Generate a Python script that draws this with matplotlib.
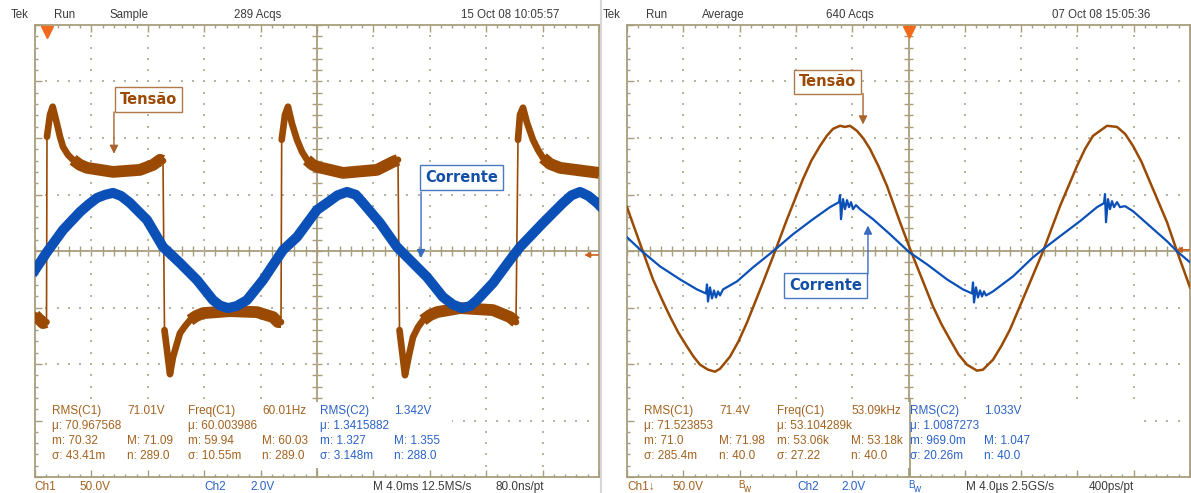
import numpy as np
import matplotlib
matplotlib.use('Agg')
import matplotlib.pyplot as plt
from matplotlib.lines import Line2D
from matplotlib.patches import Rectangle

W, H = 1191, 493
FONT = ['Liberation Sans', 'DejaVu Sans']

# ---- left capture: 4 ms/div, Ch1 (tensão) 50 V/div, Ch2 (corrente) 2 V/div
left_t_ch1 = [0.000, 0.567, 0.816, 0.851, 1.064, 1.255, 1.539, 1.773, 1.986, 2.340,
              2.695, 3.191, 3.688, 5.532, 7.447, 8.369, 8.865, 9.078, 9.184, 9.574,
              9.787, 10.035, 10.284, 10.638, 10.993, 11.418, 11.915, 13.830, 15.745, 16.879,
              17.234, 17.447, 17.496, 17.730, 17.943, 18.227, 18.582, 18.936, 19.291, 19.645,
              20.000, 21.844, 24.255, 25.390, 25.745, 25.851, 26.241, 26.525, 26.809, 27.163,
              27.518, 28.014, 28.511, 30.142, 32.482, 33.688, 34.113, 34.255, 34.397, 34.610,
              34.894, 35.319, 35.674, 36.028, 36.525, 37.234, 40.000]
left_ch1 = [-56.7, -63.8, -62.9, 101.1, 120.6, 127.7, 113.5, 101.1, 92.2, 85.1,
            80.7, 76.2, 73.6, 70.0, 71.8, 76.2, 80.7, 79.8, -70.0, -109.0,
            -94.0, -83.3, -72.7, -66.5, -61.2, -57.6, -55.0, -53.2, -54.1, -58.5,
            -62.9, -62.9, 98.4, 120.6, 127.7, 112.6, 98.4, 87.8, 80.7, 76.7,
            74.5, 69.1, 71.8, 78.9, 80.7, -70.0, -109.9, -92.2, -76.2, -67.4,
            -61.2, -56.7, -54.1, -50.5, -52.3, -58.5, -62.9, 98.4, 120.6, 126.8,
            113.5, 98.4, 89.5, 82.4, 77.1, 73.6, 69.1]
left_t_ch2 = [0.000, 0.851, 1.986, 3.191, 3.800, 4.397, 4.970, 5.532, 6.100, 6.738,
              7.943, 9.078, 10.284, 11.489, 12.624, 13.120, 13.688, 14.300, 15.035, 16.170,
              17.589, 18.582, 20.000, 20.709, 21.450, 22.128, 22.750, 23.262, 24.468, 25.674,
              26.596, 27.801, 28.936, 29.650, 30.284, 30.850, 31.348, 32.482, 33.688, 34.397,
              36.028, 37.447, 38.050, 38.652, 39.250, 39.858, 40.000]
left_ch2 = [-0.674, -0.035, 0.745, 1.383, 1.650, 1.879, 1.990, 2.057, 1.950, 1.702,
            1.099, 0.142, -0.426, -1.028, -1.738, -1.930, -2.021, -1.950, -1.738, -1.028,
            0.035, 0.496, 1.454, 1.702, 1.970, 2.092, 1.990, 1.702, 0.993, 0.142,
            -0.319, -0.922, -1.631, -1.900, -2.021, -1.950, -1.738, -1.135, -0.319, 0.142,
            0.993, 1.702, 1.970, 2.092, 1.950, 1.702, 1.630]

# ---- right capture: 4 us/div, same vertical scales
right_t_ch1 = [0.000, 1.115, 1.847, 2.450, 3.055, 3.660, 4.263, 4.730, 5.187, 5.755,
               6.252, 6.608, 7.318, 7.920, 8.526, 9.663, 10.516, 11.368, 12.505, 13.100,
               13.713, 14.200, 14.636, 15.134, 15.489, 15.844, 16.341, 16.800, 17.265, 17.870,
               18.473, 19.397, 20.178, 21.741, 22.350, 22.949, 23.550, 24.157, 24.867, 25.294,
               26.004, 26.600, 27.212, 28.420, 29.557, 30.764, 31.972, 32.550, 33.109, 34.104,
               34.814, 35.400, 35.951, 36.550, 37.159, 38.367, 39.078, 40.000]
right_ch1 = [38.8, 0.0, -25.1, -42.0, -58.0, -72.5, -84.6, -93.5, -100.6, -105.0,
             -106.8, -104.2, -93.5, -80.0, -63.3, -27.8, -0.3, 28.1, 63.7, 80.0,
             93.0, 102.0, 108.1, 110.8, 109.8, 110.8, 106.3, 99.5, 90.3, 75.0,
             57.5, 25.5, -0.3, -49.1, -65.0, -78.4, -91.5, -100.6, -105.9, -105.0,
             -96.2, -84.0, -69.5, -34.0, -0.3, 39.7, 75.2, 90.5, 101.9, 110.8,
             109.8, 103.5, 93.0, 79.0, 61.0, 25.5, -0.3, -32.2]
right_t_ch2 = [0.000, 1.066, 2.345, 3.766, 4.974, 5.613, 5.684, 5.755, 5.897, 6.039,
               6.181, 6.323, 6.466, 6.608, 6.821, 7.816, 8.952, 10.373, 11.794, 13.215,
               14.423, 15.063, 15.134, 15.205, 15.347, 15.489, 15.631, 15.773, 15.915, 16.057,
               16.270, 16.554, 17.478, 18.686, 20.036, 21.315, 22.736, 23.873, 24.512, 24.583,
               24.654, 24.796, 24.938, 25.080, 25.222, 25.364, 25.506, 26.004, 27.425, 28.846,
               29.557, 30.764, 32.185, 33.393, 33.890, 33.961, 34.032, 34.174, 34.316, 34.458,
               34.601, 34.814, 35.027, 35.382, 35.951, 37.159, 38.367, 39.078, 40.000]
right_ch2 = [0.487, -0.011, -0.543, -1.005, -1.360, -1.502, -1.183, -1.787, -1.289, -1.680,
             -1.396, -1.645, -1.431, -1.574, -1.360, -1.076, -0.579, -0.011, 0.593, 1.126,
             1.552, 1.730, 1.978, 1.126, 1.836, 1.481, 1.801, 1.552, 1.730, 1.481,
             1.623, 1.481, 1.126, 0.593, -0.036, -0.472, -1.005, -1.360, -1.502, -1.112,
             -1.822, -1.289, -1.645, -1.396, -1.609, -1.431, -1.574, -1.431, -0.899, -0.224,
             0.060, 0.522, 1.055, 1.552, 1.694, 2.014, 1.019, 1.836, 1.481, 1.765,
             1.552, 1.730, 1.552, 1.588, 1.410, 0.877, 0.345, -0.011, -0.401]

left_header = ["Tek", "Run", "Sample", "289 Acqs", "15 Oct 08 10:05:57"]
right_header = ["Tek", "Run", "Average", "640 Acqs", "07 Oct 08 15:05:36"]

left_meas = [["RMS(C1)", "71.01V", "Freq(C1)", "60.01Hz", "RMS(C2)", "1.342V"],
             ["μ: 70.967568", "", "μ: 60.003986", "", "μ: 1.3415882", ""],
             ["m: 70.32", "M: 71.09", "m: 59.94", "M: 60.03", "m: 1.327", "M: 1.355"],
             ["σ: 43.41m", "n: 289.0", "σ: 10.55m", "n: 289.0", "σ: 3.148m", "n: 288.0"]]
right_meas = [["RMS(C1)", "71.4V", "Freq(C1)", "53.09kHz", "RMS(C2)", "1.033V"],
              ["μ: 71.523853", "", "μ: 53.104289k", "", "μ: 1.0087273", ""],
              ["m: 71.0", "M: 71.98", "m: 53.06k", "M: 53.18k", "m: 969.0m", "M: 1.047"],
              ["σ: 285.4m", "n: 40.0", "σ: 27.22", "n: 40.0", "σ: 20.26m", "n: 40.0"]]

left_footer = ["Ch1", "50.0V", "Ch2", "2.0V", "M 4.0ms 12.5MS/s", "80.0ns/pt"]
right_footer = ["Ch1\u2193", "50.0V", "Ch2", "2.0V", "M 4.0\u00b5s 2.5GS/s", "400ps/pt"]

GRID = '#a89e7c'
DOT = '#b9b3a0'
BROWN = '#9a4a02'
BROWN_TXT = '#a3621f'
BLUE = '#0b50b6'
BLUE_TXT = '#2a62c6'
DARK = '#3a3a3a'
TRIG = '#f26a1b'

fig = plt.figure(figsize=(W / 100, H / 100), dpi=100)


def px(x, y):
    return x / W, 1 - y / H


def ftext(x, y, s, color, size=8.3, **kw):
    fig.text(*px(x, y), s, color=color, fontsize=size, family=FONT,
             ha='left', va='center', **kw)


def graticule(ax, span):
    dx = span / 10
    ax.set_xlim(0, span)
    ax.set_ylim(-200, 200)
    ax.set_xticks(np.arange(0, span + dx / 2, dx))
    ax.set_xticks(np.arange(0, span + dx / 10, dx / 5), minor=True)
    ax.set_yticks(np.arange(-200, 201, 50))
    ax.set_yticks(np.arange(-200, 201, 10), minor=True)
    ax.tick_params(which='both', direction='in', top=True, right=True, color=GRID,
                   width=1, labelbottom=False, labelleft=False)
    ax.tick_params(which='major', length=5)
    ax.tick_params(which='minor', length=2.5)
    for s in ax.spines.values():
        s.set_color(GRID)
        s.set_linewidth(1.3)
    ax.axhline(0, color=GRID, lw=1.3, zorder=1)
    ax.axvline(span / 2, color=GRID, lw=1.3, zorder=1)
    fine_x = np.arange(0, span + dx / 10, dx / 5)
    fine_y = np.arange(-200, 201, 10)
    ax.vlines(fine_x, -4, 4, color=GRID, lw=1, zorder=1)
    ax.hlines(fine_y, span / 2 - 0.08 * dx, span / 2 + 0.08 * dx, color=GRID, lw=1, zorder=1)
    gx = [k * dx for k in range(1, 10) if k != 5]
    gy = [-150, -100, -50, 50, 100, 150]
    X1, Y1 = np.meshgrid(gx, fine_y[1:-1])
    X2, Y2 = np.meshgrid(fine_x[1:-1], gy)
    ax.scatter(np.r_[X1.ravel(), X2.ravel()], np.r_[Y1.ravel(), Y2.ravel()],
               s=1.6, marker='s', color=DOT, linewidths=0, zorder=1)


def add_panel(x0, x1):
    ax = fig.add_axes([x0 / W, 1 - 477 / H, (x1 - x0) / W, 452 / H])
    ax.set_facecolor('white')
    graticule(ax, 40)
    ax2 = ax.twinx()
    ax2.set_ylim(-8, 8)
    ax2.axis('off')
    return ax, ax2


def label_box(ax, x, y, s, color, edge):
    ax.text(x, y, s, ha='center', va='center', fontsize=10.5, fontweight='bold',
            family='DejaVu Sans', color=color, zorder=6,
            bbox=dict(boxstyle='square,pad=0.32', fc='white', ec=edge, lw=1))


def leader(ax, x, y0, y1, color):
    ax.annotate('', xy=(x, y1), xytext=(x, y0), zorder=6,
                arrowprops=dict(arrowstyle='-|>,head_length=0.5,head_width=0.25',
                                color=color, lw=1, shrinkA=0, shrinkB=0))


# ---------------- left panel ----------------
axL, axL2 = add_panel(35, 599)
t1 = np.array(left_t_ch1)
v1 = np.array(left_ch1)
axL.plot(t1, v1, color=BROWN, lw=1.2, zorder=3)
cuts = np.where(np.abs(np.diff(v1)) > 100)[0] + 1
for seg in np.split(np.arange(len(v1)), cuts):
    axL.plot(t1[seg], v1[seg], color=BROWN, lw=4.8, zorder=3,
             solid_joinstyle='round', solid_capstyle='round')
plateau = np.where((v1 < 85) & (v1 > -66), v1, np.nan)
axL.plot(t1, plateau, color=BROWN, lw=8.5, zorder=3, solid_capstyle='butt',
         solid_joinstyle='round')
axL2.plot(left_t_ch2, left_ch2, color=BLUE, lw=7.2, zorder=4, solid_joinstyle='round')

label_box(axL, 8.05, 134, "Tensão", BROWN, '#b07a48')
leader(axL, 5.60, 123, 86, '#a8642a')
label_box(axL2, 30.25, 2.60, "Corrente", '#1450a8', '#4a78c4')
leader(axL2, 27.38, 2.09, -0.25, '#3a6cc0')

axL.plot([0.85], [194], marker='v', ms=8, color=TRIG, clip_on=False, zorder=7)
axL.annotate('', xy=(38.95, -3.5), xytext=(39.95, -3.5),
             arrowprops=dict(arrowstyle='-|>', color='#c8601c', lw=1.2,
                             mutation_scale=8, shrinkA=0, shrinkB=0))

# ---------------- right panel ----------------
axR, axR2 = add_panel(627, 1190)
axR.plot(right_t_ch1, right_ch1, color=BROWN, lw=1.8, zorder=3, solid_joinstyle='round')
axR2.plot(right_t_ch2, right_ch2, color=BLUE, lw=1.6, zorder=4)

label_box(axR, 14.25, 149.6, "Tensão", BROWN, '#b07a48')
leader(axR, 16.77, 139.4, 112, '#a8642a')
label_box(axR2, 14.10, -1.22, "Corrente", '#1450a8', '#4a78c4')
leader(axR2, 17.12, -0.81, 0.90, '#3a6cc0')

axR.plot([20], [194], marker='v', ms=8, color=TRIG, clip_on=False, zorder=7)
axR.annotate('', xy=(39.0, 1.0), xytext=(39.95, 1.0),
             arrowprops=dict(arrowstyle='-|>', color='#c8601c', lw=1.2,
                             mutation_scale=8, shrinkA=0, shrinkB=0))

# measurement readout areas blank out the graticule
for (bx0, bx1) in [(44, 452), (636, 1138)]:
    fig.add_artist(Rectangle(px(bx0, 468), (bx1 - bx0) / W, 66 / H,
                             transform=fig.transFigure, fc='white', ec='none', zorder=1))
fig.add_artist(Line2D([909.5 / W] * 2, [1 - 476 / H, 1 - 400 / H],
                      transform=fig.transFigure, color=GRID, lw=1.3, zorder=2))
fig.add_artist(Line2D([601 / W] * 2, [0, 1], transform=fig.transFigure,
                      color='#d6d6d6', lw=1.5, zorder=2))

# ---------------- texts ----------------
for xs, labels in [([11, 54, 110, 234, 461], left_header),
                   ([603, 646, 702, 826, 1052], right_header)]:
    for x, s in zip(xs, labels):
        ftext(x, 15, s, DARK, size=8.3)

rows_y = [411, 426, 441, 456]
for cols, table in [([52, 127, 188, 262, 320, 394], left_meas),
                    ([644, 719, 777, 851, 910, 984], right_meas)]:
    for y, row in zip(rows_y, table):
        for i, (x, s) in enumerate(zip(cols, row)):
            if s:
                ftext(x, y, s, BROWN_TXT if i < 4 else BLUE_TXT, size=8.5)

fx = [34, 79, 204, 250, 373, 496]
for i, (x, s) in enumerate(zip(fx, left_footer)):
    ftext(x, 487, s, BROWN_TXT if i < 2 else (BLUE_TXT if i < 4 else DARK), size=8.5)
fx = [627, 672, 797, 841, 966, 1089]
for i, (x, s) in enumerate(zip(fx, right_footer)):
    ftext(x, 487, s, BROWN_TXT if i < 2 else (BLUE_TXT if i < 4 else DARK), size=8.5)
for x, c in [(738, BROWN_TXT), (908, BLUE_TXT)]:
    ftext(x, 485, "B", c, size=7)
    ftext(x + 5.5, 488.5, "w", c, size=7)

fig.savefig('out.png', dpi=100, facecolor='white')
